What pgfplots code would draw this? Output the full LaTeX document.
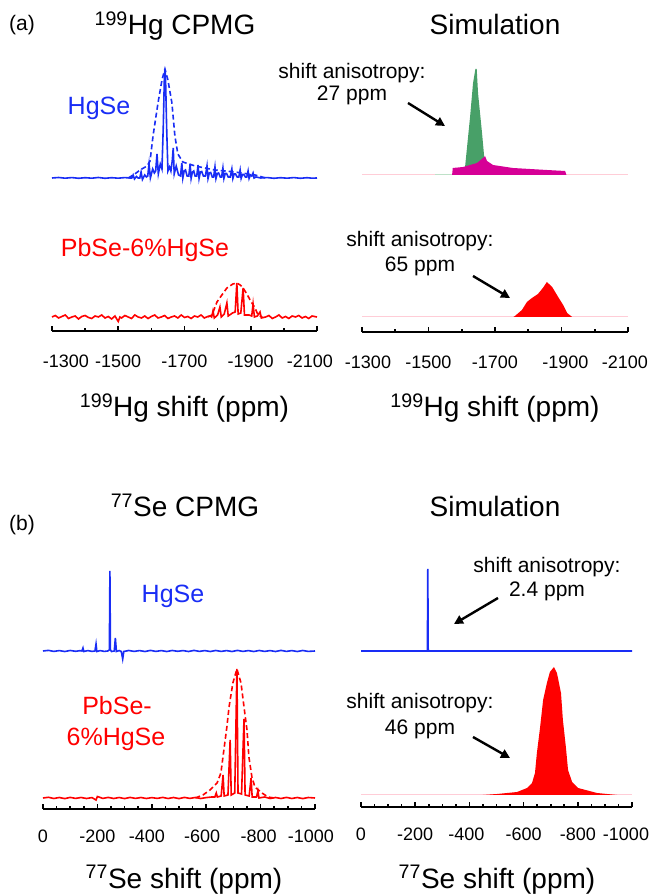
\documentclass[border=0pt]{standalone}
\usepackage{fontspec}
\setmainfont{Liberation Sans}
\usepackage{pgfplots}
\pgfplotsset{compat=1.18}
\usetikzlibrary{arrows.meta}
\definecolor{hgblue}{RGB}{25,45,245}
\definecolor{hgred}{RGB}{255,0,0}
\definecolor{simgreen}{RGB}{72,160,104}
\definecolor{simmag}{RGB}{214,0,150}
\definecolor{faintpink}{RGB}{255,205,215}
\definecolor{faintgreen}{RGB}{190,225,200}
\newcommand{\fs}[1]{\fontsize{#1}{#1}\selectfont}

\pgfplotsset{
  panel/.style={
    scale only axis, clip=false, anchor=south west,
    x dir=reverse,
    axis x line=bottom, axis y line=none,
    x axis line style={-, line width=1.6pt},
    ytick=\empty, ymin=0,
    tick align=inside,
    major tick length=5pt, minor tick length=2.5pt,
    every tick/.style={black, line width=1.6pt},
    xticklabel style={anchor=base, font=\fs{18}},
  },
}
\tikzset{
  sol/.style={line width=1.6pt},
  dsh/.style={line width=1.6pt, dash pattern=on 5pt off 3pt},
  arr/.style={-{Triangle[length=9pt,width=9pt]}, line width=2.4pt, black},
}

\begin{document}
\begin{tikzpicture}
\useasboundingbox (0,0) rectangle (654pt,896pt);

% ---------- (a) left: 199Hg CPMG
\begin{axis}[panel, at={(52pt,565pt)}, width=265pt, height=280pt,
  xmin=-2100, xmax=-1300, ymax=280,
  xtick={-2100,-1900,-1700,-1500,-1300},
  xticklabels={-2100\hspace*{14pt},-1900,-1700,-1500,\hspace*{28pt}-1300},
  minor xtick={-2000,-1800,-1600,-1400},
  xticklabel style={yshift=-37pt}]
\addplot[hgblue, dsh] coordinates {
  (-1530,153) (-1550,157) (-1566,161) (-1587,165) (-1596,170) (-1605,195)
  (-1620,228) (-1632,251) (-1641,262) (-1650,251) (-1662,228) (-1671,195)
  (-1680,177) (-1695,169) (-1732,165) (-1792,161) (-1852,159) (-1913,156) (-1945,153)
};
\addplot[hgblue, sol] coordinates {
  (-1300,153) (-1320,153.5) (-1340,152.8) (-1360,153.4) (-1380,152.7) (-1400,153.3)
  (-1420,152.8) (-1440,153.5) (-1460,152.7) (-1480,153.3) (-1500,152.8) (-1520,153.4)
  (-1535,153)
  (-1541,153) (-1545,156) (-1549,152) (-1555,154.5) (-1560,153)
  (-1565,153) (-1569,159) (-1573,151.5) (-1580,156) (-1585,154)
  (-1589,155) (-1593,167) (-1597,153) (-1604,162) (-1609,158)
  (-1613,160) (-1617,177) (-1621,157) (-1627,167) (-1632,162)
  (-1636,205) (-1639,250) (-1641,262) (-1643,250) (-1646,205) (-1650,160) (-1655,164)
  (-1659,160) (-1663,170) (-1666,183) (-1669,157) (-1675,165) (-1682,156)
  (-1688,155) (-1692,168) (-1695,153) (-1699,160) (-1703,161) (-1708,155)
  (-1713,155) (-1717,167) (-1720,152.5) (-1724,159) (-1728,160) (-1732,155)
  (-1737,155) (-1741,166) (-1744,152.5) (-1748,159) (-1752,159.5) (-1757,155)
  (-1763,155) (-1768,165) (-1771,152.5) (-1775,158) (-1779,158.5) (-1784,154)
  (-1788,154) (-1792,164) (-1795,152.5) (-1799,157.5) (-1803,158) (-1808,154)
  (-1812,154) (-1816,163) (-1819,152.5) (-1823,157.5) (-1827,157.5) (-1832,154)
  (-1838,154) (-1843,162) (-1846,152.5) (-1850,157) (-1854,157) (-1859,154)
  (-1864,154) (-1868,161) (-1871,152.5) (-1875,156.5) (-1879,156.5) (-1884,154)
  (-1888,154) (-1892,160) (-1895,152.5) (-1899,156) (-1903,155) (-1907,158) (-1910,153) (-1916,154)
  (-1930,153) (-1950,153.4) (-1970,152.7) (-1990,153.3) (-2010,152.8)
  (-2030,153.4) (-2050,152.7) (-2070,153.3) (-2085,152.8) (-2100,153)
};
\addplot[hgred, dsh] coordinates {
  (-1770,14) (-1783,16) (-1798,29) (-1815,37) (-1828,43) (-1846,47) (-1858,48)
  (-1868,46) (-1877,43) (-1890,36) (-1898,31) (-1913,23) (-1922,16) (-1935,14)
};
\addplot[hgred, sol] coordinates {
  (-1300,14) (-1310,15.5) (-1320,13) (-1330,14.5) (-1340,16) (-1350,12.5) (-1360,14)
  (-1370,15) (-1380,12) (-1390,14.5) (-1400,15.5) (-1410,13.5) (-1420,12.5) (-1430,15)
  (-1440,14) (-1450,16) (-1460,13) (-1470,14.5) (-1480,12) (-1490,15) (-1500,9.5)
  (-1505,14) (-1510,13) (-1520,15.5) (-1530,14) (-1540,12.5) (-1550,16) (-1560,14)
  (-1570,13) (-1580,15) (-1590,12.5) (-1600,14.5) (-1610,16) (-1620,13) (-1630,14)
  (-1640,15.5) (-1650,12.5) (-1660,14) (-1670,15) (-1680,13) (-1690,16) (-1700,13.5)
  (-1710,14.5) (-1720,12.5) (-1730,15) (-1740,14) (-1750,16) (-1760,13) (-1770,14.5)
  (-1778,15) (-1782,14) (-1786,20) (-1790,13) (-1800,16) (-1807,24) (-1811,14)
  (-1820,17) (-1828,28) (-1832,15) (-1845,18) (-1853,19) (-1858,48) (-1862,17)
  (-1870,18) (-1877,43) (-1881,16) (-1895,16) (-1903,15) (-1907,27) (-1911,14)
  (-1920,15) (-1928,19) (-1932,13) (-1945,14) (-1955,15.5) (-1965,12.5) (-1975,14)
  (-1985,16) (-1995,13) (-2005,14.5) (-2015,12.5) (-2025,15) (-2035,14) (-2045,15.5)
  (-2055,13) (-2065,14.5) (-2075,12.5) (-2085,15) (-2100,14)
};
\end{axis}

% ---------- (a) right: simulation
\begin{axis}[panel, at={(362pt,564pt)}, width=266pt, height=280pt,
  xmin=-2100, xmax=-1300, ymax=280,
  xtick={-2100,-1900,-1700,-1500,-1300},
  xticklabels={-2100\hspace*{6pt},\hspace*{8pt}-1900,-1700,-1500,\hspace*{12pt}-1300},
  minor xtick={-2000,-1800,-1600,-1400},
  xticklabel style={yshift=-37pt}]
\addplot[faintpink, line width=1pt] coordinates {(-1300,157) (-2100,157)};
\addplot[faintgreen, line width=1pt] coordinates {(-1520,157) (-1600,157)};
\addplot[fill=simgreen, draw=none] coordinates {
  (-1603,157) (-1610,165) (-1625,215) (-1634,249) (-1641,263) (-1645,263)
  (-1649,239) (-1661,199) (-1667,177) (-1670,157)
};
\addplot[fill=simmag, draw=none] coordinates {
  (-1571,157) (-1573,164) (-1604,165) (-1646,169) (-1664,174) (-1670,176)
  (-1676,171) (-1694,167) (-1754,164) (-1856,162) (-1911,161) (-1915,157)
};
\addplot[faintpink, line width=1pt] coordinates {(-1300,15) (-2100,15)};
\addplot[fill=hgred, draw=none] coordinates {
  (-1755,15) (-1760,16) (-1781,22) (-1796,30) (-1811,34) (-1829,38) (-1844,44)
  (-1856,50) (-1872,45) (-1890,35) (-1905,27) (-1917,19) (-1932,15)
};
\end{axis}

% ---------- (b) left: 77Se CPMG
\begin{axis}[panel, at={(43pt,87pt)}, width=272pt, height=260pt,
  xmin=-1000, xmax=0, ymax=260,
  xtick={-1000,-800,-600,-400,-200,0},
  xticklabels={-1000\hspace*{8pt},-800\hspace*{4pt},-600\hspace*{8pt},-400\hspace*{10pt},-200,0},
  minor xtick={-950,-900,-850,-750,-700,-650,-550,-500,-450,-350,-300,-250,-150,-100,-50},
  xticklabel style={yshift=-34pt}]
\addplot[hgblue, sol] coordinates {
  (0,158) (-20,158.6) (-40,157.6) (-60,158.4) (-80,157.5) (-100,158.5) (-120,157.7)
  (-135,158.3) (-143,158) (-147,161) (-150,157.5)
  (-165,158.4) (-180,157.6) (-191,158) (-195,165) (-198,157.5) (-210,158.4)
  (-225,157.6) (-238,158) (-244,159) (-246,238) (-248,159) (-252,157.5)
  (-262,158) (-266,171) (-270,157.5) (-280,158.4) (-288,157.5) (-293,150) (-297,157.5)
  (-315,158.5) (-335,157.6) (-355,158.4) (-375,157.5) (-395,158.6) (-415,157.6)
  (-435,158.4) (-455,157.5) (-475,158.5) (-495,157.7) (-515,158.4) (-535,157.5)
  (-555,158.6) (-575,157.6) (-595,158.4) (-615,157.5) (-635,158.5) (-655,157.6)
  (-675,158.4) (-695,157.5) (-715,158.6) (-735,157.6) (-755,158.4) (-775,157.5)
  (-795,158.5) (-815,157.6) (-835,158.4) (-855,157.5) (-875,158.6) (-895,157.6)
  (-915,158.4) (-935,157.5) (-955,158.5) (-975,157.6) (-1000,158)
};
\addplot[hgred, dsh] coordinates {
  (-560,11) (-588,14) (-614,19) (-640,26) (-654,36) (-665,59) (-676,82) (-684,102)
  (-698,126) (-713,140) (-728,126) (-739,102) (-750,79) (-757,52) (-768,32)
  (-779,22) (-805,16) (-827,12) (-850,11)
};
\addplot[hgred, sol] coordinates {
  (0,11) (-20,11.7) (-40,10.5) (-60,11.5) (-80,10.4) (-100,11.6) (-120,10.6)
  (-140,11.5) (-160,10.5) (-180,11.4) (-195,9) (-200,12.5) (-220,10.6) (-240,11.6)
  (-260,10.5) (-280,11.5) (-300,10.4) (-320,11.6) (-340,10.6) (-360,11.5)
  (-380,10.5) (-400,11.4) (-420,10.6) (-440,11.6) (-460,10.5) (-480,11.5)
  (-500,10.4) (-520,11.6) (-540,10.6) (-560,11.5) (-580,10.5) (-600,11.4) (-620,12)
  (-632,12) (-637,16) (-641,12) (-655,13) (-662,34) (-666,13) (-680,14) (-688,69)
  (-692,14) (-705,16) (-713,140) (-717,16) (-730,15) (-739,90) (-743,14)
  (-758,13) (-765,31) (-769,12) (-785,12) (-790,18) (-794,11) (-815,12)
  (-835,10.5) (-855,11.5) (-875,10.5) (-895,11.6) (-915,10.5) (-935,11.5)
  (-955,10.4) (-975,11.5) (-1000,11)
};
\end{axis}

% ---------- (b) right: simulation
\begin{axis}[panel, at={(361pt,89pt)}, width=271pt, height=260pt,
  xmin=-1000, xmax=0, ymax=260,
  xtick={-1000,-800,-600,-400,-200,0},
  xticklabels={-1000\hspace*{12pt},-800,-600,-400\hspace*{6pt},-200,0},
  minor xtick={-950,-900,-850,-750,-700,-650,-550,-500,-450,-350,-300,-250,-150,-100,-50},
  xticklabel style={yshift=-34pt}]
\addplot[hgblue, sol] coordinates {
  (0,156) (-245,156) (-246.5,238) (-248,156) (-1000,156)
};
\addplot[faintpink, line width=1pt] coordinates {(0,12) (-1000,12)};
\addplot[fill=hgred, draw=none] coordinates {
  (-450,12) (-502,13) (-576,15) (-613,19) (-631,24) (-642,34) (-649,54) (-661,80)
  (-672,107) (-686,124) (-697,135) (-712,140) (-723,134) (-738,114) (-745,87)
  (-756,60) (-764,37) (-779,25) (-801,19) (-871,14) (-945,12)
};
\end{axis}

% ---------- texts
\node[anchor=base, font=\fs{21}] at (22pt,865pt) {(a)};
\node[anchor=base, font=\fs{28}] at (175pt,861pt) {\textsuperscript{199}Hg CPMG};
\node[anchor=base, font=\fs{28}] at (495pt,861pt) {Simulation};
\node[anchor=base, font=\fs{25}, text=hgblue] at (99pt,781pt) {HgSe};
\node[anchor=base, font=\fs{21}] at (352pt,817pt) {shift anisotropy:};
\node[anchor=base, font=\fs{21}] at (352pt,795pt) {27 ppm};
\draw[arr] (408pt,793pt) -- (445pt,770pt);
\node[anchor=base, font=\fs{25}, text=hgred] at (145pt,639pt) {PbSe-6\%HgSe};
\node[anchor=base, font=\fs{21}] at (420pt,649pt) {shift anisotropy:};
\node[anchor=base, font=\fs{21}] at (420pt,624pt) {65 ppm};
\draw[arr] (473pt,620pt) -- (510pt,598pt);
\node[anchor=base, font=\fs{28}] at (184.5pt,479pt) {\textsuperscript{199}Hg shift (ppm)};
\node[anchor=base, font=\fs{28}] at (495pt,479pt) {\textsuperscript{199}Hg shift (ppm)};

\node[anchor=base, font=\fs{21}] at (22pt,365pt) {(b)};
\node[anchor=base, font=\fs{28}] at (185pt,379pt) {\textsuperscript{77}Se CPMG};
\node[anchor=base, font=\fs{28}] at (495pt,379pt) {Simulation};
\node[anchor=base, font=\fs{25}, text=hgblue] at (173pt,293pt) {HgSe};
\node[anchor=base, font=\fs{21}] at (547pt,323pt) {shift anisotropy:};
\node[anchor=base, font=\fs{21}] at (547pt,299pt) {2.4 ppm};
\draw[arr] (498pt,298pt) -- (454pt,272pt);
\node[anchor=base, font=\fs{25}, text=hgred] at (117pt,181pt) {PbSe-};
\node[anchor=base, font=\fs{25}, text=hgred] at (116pt,150pt) {6\%HgSe};
\node[anchor=base, font=\fs{21}] at (420pt,187pt) {shift anisotropy:};
\node[anchor=base, font=\fs{21}] at (420pt,161pt) {46 ppm};
\draw[arr] (473pt,159pt) -- (510pt,138pt);
\node[anchor=base, font=\fs{28}] at (184pt,8pt) {\textsuperscript{77}Se shift (ppm)};
\node[anchor=base, font=\fs{28}] at (497pt,8pt) {\textsuperscript{77}Se shift (ppm)};
\end{tikzpicture}
\end{document}
